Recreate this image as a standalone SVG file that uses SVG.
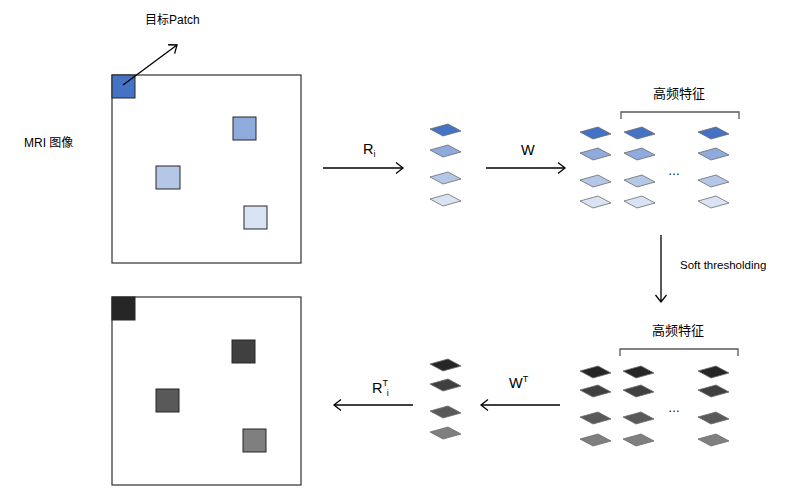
<svg xmlns="http://www.w3.org/2000/svg" width="787" height="488" viewBox="0 0 787 488">
<style>
text{font-family:"Liberation Sans","Noto Sans CJK SC",sans-serif;fill:#000}
.lbl{font-size:12px}
.hd{font-size:13px}
.big{font-size:14.5px}
.frame{fill:#fff;stroke:#404040;stroke-width:1.3}
.sq{stroke:#262626;stroke-width:1}
.pg{stroke:#6b6b6b;stroke-width:0.8}
.ln{stroke:#000;stroke-width:1.3;fill:none}
.br{stroke:#595959;stroke-width:1.3;fill:none}
.b1{fill:#4472C4}.b2{fill:#8FAADC}.b3{fill:#B4C7E7}.b4{fill:#DAE3F3}
.g1{fill:#262626}.g2{fill:#404040}.g3{fill:#595959}.g4{fill:#7F7F7F}
</style>
<defs>
<path id="pg" d="M0,0 l18,-5 l13,7 l-18,5 z"/>
<marker id="ah" markerUnits="userSpaceOnUse" markerWidth="16" markerHeight="16" viewBox="-10 -8 12 16" refX="0" refY="0" orient="auto">
<path d="M-7,-5.5 L0,0 L-7,5.5" fill="none" stroke="#000" stroke-width="1.3"/>
</marker>
</defs>

<g id="mri-top">
<rect class="frame" x="112" y="75" width="189" height="188"/>
<rect class="sq b1" x="112" y="75" width="23" height="23"/>
<rect class="sq b2" x="233" y="117" width="23" height="23"/>
<rect class="sq b3" x="156" y="166" width="24" height="23"/>
<rect class="sq b4" x="244" y="206" width="23" height="23"/>
<text class="lbl" x="24" y="147">MRI 图像</text>
</g>

<g id="target-label">
<text class="lbl" x="145" y="24">目标Patch</text>
</g>

<g id="mri-bottom">
<rect class="frame" x="112" y="297" width="189" height="188"/>
<rect class="sq g1" x="112" y="297" width="23" height="23"/>
<rect class="sq g2" x="232" y="340" width="23" height="23"/>
<rect class="sq g3" x="156" y="389" width="23" height="23"/>
<rect class="sq g4" x="243" y="429" width="23" height="23"/>
</g>

<g id="patches-top">
<use href="#pg" class="pg b1" x="430" y="129"/>
<use href="#pg" class="pg b2" x="430" y="150"/>
<use href="#pg" class="pg b3" x="430" y="177"/>
<use href="#pg" class="pg b4" x="430" y="199"/>
</g>

<g id="features-top">
<text class="hd" x="653" y="98">高频特征</text>
<path class="br" d="M621,119 V112 H739 V119"/>
<use href="#pg" class="pg b1" x="580" y="132"/>
<use href="#pg" class="pg b2" x="580" y="153"/>
<use href="#pg" class="pg b3" x="580" y="180"/>
<use href="#pg" class="pg b4" x="580" y="201"/>
<use href="#pg" class="pg b1" x="624" y="132"/>
<use href="#pg" class="pg b2" x="624" y="153"/>
<use href="#pg" class="pg b3" x="624" y="180"/>
<use href="#pg" class="pg b4" x="624" y="201"/>
<use href="#pg" class="pg b1" x="698" y="132"/>
<use href="#pg" class="pg b2" x="698" y="153"/>
<use href="#pg" class="pg b3" x="698" y="180"/>
<use href="#pg" class="pg b4" x="698" y="201"/>
<text class="lbl" x="668" y="175">…</text>
</g>

<g id="features-bottom">
<text class="hd" x="652" y="335">高频特征</text>
<path class="br" d="M620,356 V349 H738 V356"/>
<use href="#pg" class="pg g1" x="580" y="371"/>
<use href="#pg" class="pg g2" x="580" y="390"/>
<use href="#pg" class="pg g3" x="580" y="417"/>
<use href="#pg" class="pg g4" x="580" y="439"/>
<use href="#pg" class="pg g1" x="623" y="371"/>
<use href="#pg" class="pg g2" x="623" y="390"/>
<use href="#pg" class="pg g3" x="623" y="417"/>
<use href="#pg" class="pg g4" x="623" y="439"/>
<use href="#pg" class="pg g1" x="698" y="371"/>
<use href="#pg" class="pg g2" x="698" y="390"/>
<use href="#pg" class="pg g3" x="698" y="417"/>
<use href="#pg" class="pg g4" x="698" y="439"/>
<text class="lbl" x="668" y="412">…</text>
</g>

<g id="patches-bottom">
<use href="#pg" class="pg g1" x="430" y="364"/>
<use href="#pg" class="pg g2" x="430" y="384"/>
<use href="#pg" class="pg g3" x="430" y="411"/>
<use href="#pg" class="pg g4" x="430" y="432"/>
</g>

<g id="connectors">
<line class="ln" x1="123" y1="85" x2="177" y2="45" marker-end="url(#ah)"/>
<line class="ln" x1="323" y1="168" x2="403" y2="168" marker-end="url(#ah)"/>
<line class="ln" x1="486" y1="168" x2="565" y2="168" marker-end="url(#ah)"/>
<line class="ln" x1="661" y1="235" x2="661" y2="302" marker-end="url(#ah)"/>
<line class="ln" x1="560" y1="405" x2="481" y2="405" marker-end="url(#ah)"/>
<line class="ln" x1="413" y1="405" x2="334" y2="405" marker-end="url(#ah)"/>
<text class="big" x="363" y="154">R<tspan font-size="9" dy="3">i</tspan></text>
<text class="big" x="521" y="155">W</text>
<text style="font-size:11.5px" x="680" y="269">Soft thresholding</text>
<text class="big" x="509" y="388">W<tspan font-size="9" dy="-6">T</tspan></text>
<text class="big" x="372" y="393">R<tspan font-size="9" dy="-7">T</tspan><tspan font-size="9" dx="-1" dy="10">i</tspan></text>
</g>
</svg>
